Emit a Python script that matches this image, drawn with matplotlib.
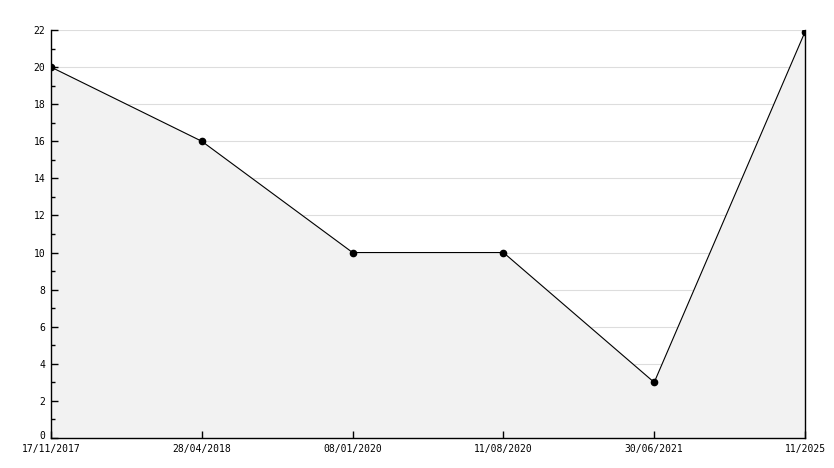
import matplotlib
matplotlib.use('Agg')
import matplotlib.pyplot as plt
import matplotlib.transforms as mtransforms

dates = ['17/11/2017', '28/04/2018', '08/01/2020', '11/08/2020', '30/06/2021', '11/2025']
values = [20, 16, 10, 10, 3, 21.9]

fig = plt.figure(figsize=(8.34, 4.68), dpi=100)
ax = fig.add_axes([51 / 834, 1 - 438 / 468, 754 / 834, 408 / 468])

x = list(range(len(dates)))
yticks = list(range(0, 23, 2))

# gridlines behind the fill, ticks stay on top
for y in yticks[1:]:
    ax.axhline(y, color='#dddddd', linewidth=0.8, zorder=0.5)
ax.fill_between(x, values, 0, color='#f2f2f2', zorder=1)
ax.plot(x, values, color='black', linewidth=0.8, marker='o', markersize=4.5, zorder=3)

ax.set_xlim(0, len(dates) - 1)
ax.set_ylim(0, 22)
ax.set_xticks(x)
ax.set_xticklabels(dates, fontfamily='DejaVu Sans Mono', fontsize=7)
ax.set_yticks(yticks)
ax.set_yticks(range(1, 22, 2), minor=True)
ax.set_yticklabels([str(v) for v in yticks], fontfamily='DejaVu Sans Mono', fontsize=7)

ax.tick_params(axis='both', which='major', direction='in', length=5, width=1, pad=4)
ax.tick_params(axis='y', which='minor', direction='in', length=3, width=1)
ax.tick_params(axis='x', pad=4)

# lift the "0" a little so it clears the first date
lbl0 = ax.get_yticklabels()[0]
lbl0.set_transform(lbl0.get_transform() + mtransforms.ScaledTranslation(0, 2 / 72, fig.dpi_scale_trans))

for side in ['left', 'bottom', 'right']:
    ax.spines[side].set_color('black')
    ax.spines[side].set_linewidth(1)
    ax.spines[side].set_zorder(4)
ax.spines['top'].set_visible(False)

fig.savefig('out.png', dpi=100)
